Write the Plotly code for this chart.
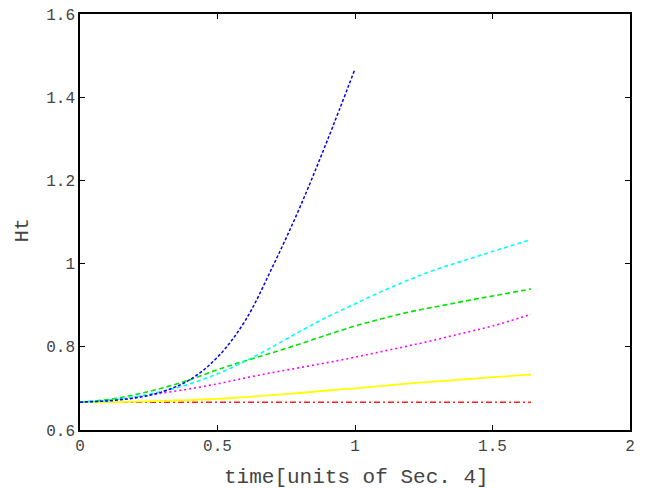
import plotly.graph_objects as go

x_blue = [0, 0.1, 0.2, 0.3, 0.4, 0.5, 0.6, 0.7, 0.8, 0.9, 1.0]
y_blue = [0.667, 0.670, 0.677, 0.692, 0.721, 0.775, 0.862, 0.992, 1.136, 1.297, 1.468]

x_long = [0, 0.1, 0.2, 0.3, 0.4, 0.5, 0.6, 0.7, 0.8, 0.9, 1.0, 1.1, 1.2, 1.3, 1.4, 1.5, 1.64]
y_cyan = [0.667, 0.671, 0.680, 0.693, 0.711, 0.735, 0.765, 0.800, 0.837, 0.872, 0.903, 0.934, 0.962, 0.987, 1.008, 1.029, 1.058]
y_green = [0.667, 0.673, 0.685, 0.701, 0.721, 0.745, 0.766, 0.786, 0.807, 0.829, 0.850, 0.868, 0.884, 0.897, 0.910, 0.922, 0.939]
y_magenta = [0.667, 0.671, 0.679, 0.689, 0.699, 0.711, 0.725, 0.738, 0.750, 0.762, 0.775, 0.789, 0.803, 0.818, 0.834, 0.850, 0.878]
y_yellow = [0.667, 0.667, 0.668, 0.670, 0.672, 0.675, 0.679, 0.684, 0.689, 0.695, 0.700, 0.706, 0.712, 0.717, 0.722, 0.727, 0.733]
y_red = [0.667] * len(x_long)

x_ticks = [0, 0.5, 1, 1.5, 2]
x_ticklabels = ["0", "0.5", "1", "1.5", "2"]
y_ticks = [0.6, 0.8, 1.0, 1.2, 1.4, 1.6]
y_ticklabels = ["0.6", "0.8", "1", "1.2", "1.4", "1.6"]

fig = go.Figure()
fig.add_trace(go.Scatter(x=x_long, y=y_red, mode="lines",
                         line=dict(color="#ff2020", width=1.5, dash="6px,3px,2px,3px")))
fig.add_trace(go.Scatter(x=x_long, y=y_yellow, mode="lines",
                         line=dict(color="#ffff00", width=1.8, shape="spline")))
fig.add_trace(go.Scatter(x=x_long, y=y_magenta, mode="lines",
                         line=dict(color="#ff00ff", width=1.6, dash="2px,3px", shape="spline")))
fig.add_trace(go.Scatter(x=x_long, y=y_green, mode="lines",
                         line=dict(color="#00e600", width=1.6, dash="5px,3px", shape="spline")))
fig.add_trace(go.Scatter(x=x_long, y=y_cyan, mode="lines",
                         line=dict(color="#00ffff", width=1.6, dash="4px,3px", shape="spline")))
fig.add_trace(go.Scatter(x=x_blue, y=y_blue, mode="lines",
                         line=dict(color="#0000ee", width=1.5, dash="3px,2px", shape="spline")))

font_family = "Liberation Mono, Courier New, monospace"
txt_color = "#444444"
# the page adds an 8px body margin, so the figure is offset by 8px
fig.update_layout(
    width=638, height=488,
    margin=dict(l=72, r=16, t=6, b=66, autoexpand=False),
    paper_bgcolor="white", plot_bgcolor="white",
    showlegend=False,
    font=dict(family=font_family, color=txt_color),
    xaxis=dict(range=[0, 2], tickvals=x_ticks, ticktext=x_ticklabels,
               showgrid=False, zeroline=False, showline=True, linecolor="black",
               linewidth=1.5, mirror="ticks", ticks="inside", ticklen=5,
               tickcolor="black", tickwidth=1, automargin=False,
               ticklabeloverflow="allow",
               tickfont=dict(size=16, family=font_family, color=txt_color)),
    yaxis=dict(range=[0.6, 1.6], tickvals=y_ticks, ticktext=y_ticklabels,
               showgrid=False, zeroline=False, showline=True, linecolor="black",
               linewidth=1.5, mirror="ticks", ticks="inside", ticklen=5,
               tickcolor="black", tickwidth=1, automargin=False,
               ticklabeloverflow="allow",
               tickfont=dict(size=16, family=font_family, color=txt_color)),
    annotations=[
        dict(text="time[units of Sec. 4]", xref="paper", yref="paper",
             x=0.502, y=-0.113, xanchor="center", yanchor="middle", showarrow=False,
             font=dict(size=21, family=font_family, color=txt_color)),
        dict(text="Ht", xref="paper", yref="paper", textangle=-90,
             x=-58 / 550, y=0.48, xanchor="center", yanchor="middle", showarrow=False,
             font=dict(size=20, family=font_family, color=txt_color)),
    ],
)
fig.write_html("out.html")
